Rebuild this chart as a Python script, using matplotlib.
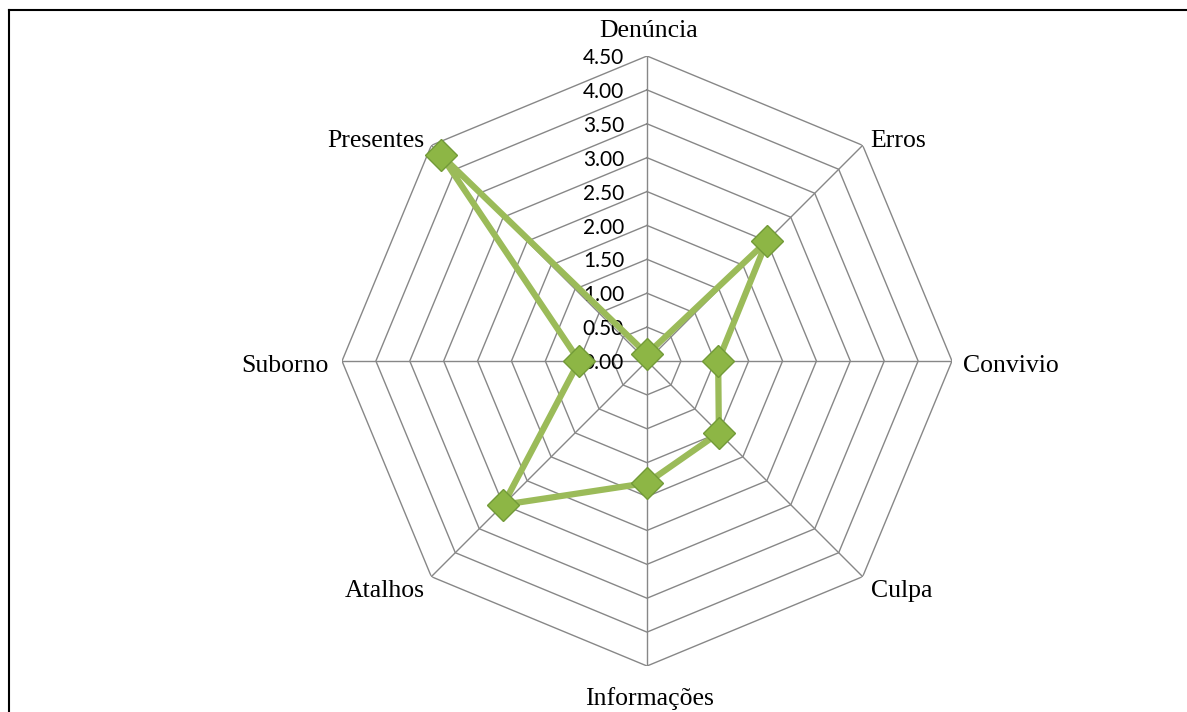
import numpy as np
import matplotlib
matplotlib.use("Agg")
import matplotlib.pyplot as plt
from matplotlib.lines import Line2D

# data
categories = ["Denúncia", "Erros", "Convivio", "Culpa",
              "Informações", "Atalhos", "Suborno", "Presentes"]
values = [0.1, 2.5, 1.05, 1.5, 1.8, 3.0, 1.0, 4.3]
ticks = [0.0, 0.5, 1.0, 1.5, 2.0, 2.5, 3.0, 3.5, 4.0, 4.5]

W, H = 1187, 712
fig = plt.figure(figsize=(W / 100, H / 100), dpi=100)

# frame: top and left edges only
fig.add_artist(Line2D([9 / W, 1.0], [1 - 9.5 / H, 1 - 9.5 / H],
                      transform=fig.transFigure, color="black", lw=1.5))
fig.add_artist(Line2D([9.5 / W, 9.5 / W], [0, 1 - 9.5 / H],
                      transform=fig.transFigure, color="black", lw=1.5))

cx, cy, rad = 647, 361, 305
ax = fig.add_axes([(cx - rad) / W, (H - cy - rad) / H, 2 * rad / W, 2 * rad / H],
                  projection="polar")
ax.set_theta_zero_location("N")
ax.set_theta_direction(-1)
ax.set_ylim(0, ticks[-1])
ax.grid(False)
ax.spines["polar"].set_visible(False)
ax.set_xticks([])
ax.set_yticks([])
ax.patch.set_alpha(0)

n = len(categories)
angles = np.arange(n) * 2 * np.pi / n
closed = np.append(angles, angles[0])

# polygon grid
gcol = "#878787"
for t in ticks[1:]:
    ax.plot(closed, [t] * (n + 1), color=gcol, lw=1.0, zorder=1)
for a in angles:
    ax.plot([a, a], [0, ticks[-1]], color=gcol, lw=1.0, zorder=1)

# tick labels
for t in ticks:
    ax.annotate(f"{t:.2f}", xy=(0, t), xytext=(-16.5, -1.5), textcoords="offset points",
                ha="right", va="center", fontsize=15, family="Lato",
                color="black", zorder=3)

# category labels: (ha, dx px, dy px) relative to outer vertex, baseline aligned
lab_pos = [("center", 2, 19), ("left", 8, -2), ("left", 11, -11), ("left", 8, -20),
           ("center", 2, -39), ("right", -7, -20), ("right", -13, -11), ("right", -7, -2)]
for a, c, (ha, dx, dy) in zip(angles, categories, lab_pos):
    ax.annotate(c, xy=(a, ticks[-1]), xytext=(dx * 0.72, dy * 0.72),
                textcoords="offset points", ha=ha, va="baseline",
                fontsize=18.5, family="Liberation Serif", annotation_clip=False)

# data series
ax.plot(closed, values + [values[0]], color="#9BBB59", lw=4.5, zorder=4)
ax.plot(angles, values, ls="none", marker="D", markersize=16,
        markerfacecolor="#8DB645", markeredgecolor="#729A38", markeredgewidth=1.0,
        zorder=5)

fig.savefig("out.png", dpi=100)
